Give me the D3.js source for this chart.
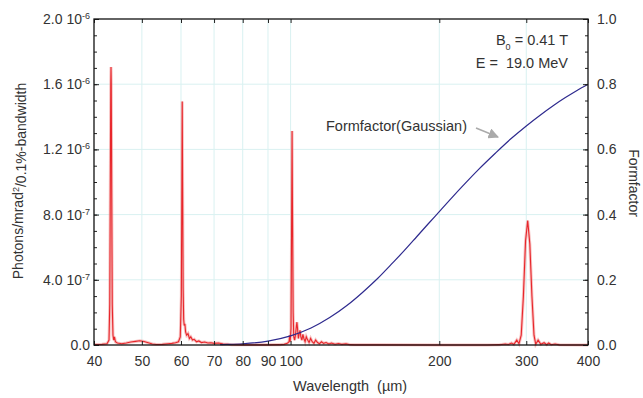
<!DOCTYPE html>
<html>
<head>
<meta charset="utf-8">
<style>
    body { margin: 0; background: white; }
    svg { font-family: 'Liberation Sans', Arial, Helvetica, sans-serif; }
    .tick text { font-size: 14px; fill: #333; }
    .tick line { stroke: #222; }
</style>
</head>
<body>
<svg width="643" height="398"></svg>
<script src="https://d3js.org/d3.v7.min.js"></script>
<script>
// spectrum: wavelength (um) and photons/mrad^2/0.1%-bw (in units of 1e-6)
let specWl = [40, 41.5, 42.5, 42.9, 43.05, 43.15, 43.25, 43.3, 43.35, 43.45, 43.55, 43.7, 43.85, 44.0, 44.2, 44.6,
    45.5, 46.5, 47.5, 48.5, 49.5, 50.5, 51.5, 52.5, 53.5, 55, 56.5, 57.5, 58.5, 59.3, 59.8,
    60.1, 60.25, 60.35, 60.45, 60.6, 60.75, 60.9, 61.1, 61.3, 61.6, 62.0, 62.4, 62.8, 63.3, 63.8, 64.5,
    65.2, 66, 67, 68, 69, 70, 71.5, 73, 74.5, 76, 80, 90, 95, 97, 98.5, 99.3, 99.6, 99.8,
    100.2, 100.5, 100.7, 100.9, 101.2, 101.5, 101.9, 102.3, 102.7, 103.0, 103.3, 103.7, 104.1, 104.5, 104.9,
    105.4, 105.9, 106.4, 107, 107.6, 108.3, 109, 109.8, 110.6, 111.5, 112.4, 113.4, 114.4, 115.5, 116.6,
    118, 119.5, 121, 123, 125, 127, 129.5, 132, 135, 150, 200, 250,
    265, 272, 276, 280, 283, 287, 290, 293, 296, 299, 302, 305, 308, 311, 313.5, 317, 321, 326, 330,
    333, 337, 343, 350, 400];
let specVal = [0.003, 0.004, 0.008, 0.03, 0.25, 0.9, 1.6, 1.705, 1.6, 0.9, 0.25, 0.06, 0.03, 0.05, 0.02, 0.012,
    0.008, 0.012, 0.018, 0.022, 0.026, 0.022, 0.014, 0.006, 0.003, 0.004, 0.008, 0.01, 0.014, 0.02, 0.05,
    0.3, 1.0, 1.494, 1.0, 0.35, 0.16, 0.12, 0.13, 0.08, 0.06, 0.07, 0.04, 0.05, 0.03, 0.035, 0.02,
    0.025, 0.015, 0.018, 0.012, 0.014, 0.01, 0.012, 0.006, 0.004, 0.002, 0.001, 0.001, 0.002, 0.004, 0.01, 0.02, 0.06, 0.02,
    0.1, 0.8, 1.313, 0.8, 0.2, 0.05, 0.03, 0.06, 0.11, 0.14, 0.10, 0.04, 0.07, 0.09, 0.05,
    0.03, 0.065, 0.04, 0.02, 0.05, 0.03, 0.015, 0.04, 0.02, 0.01, 0.03, 0.015, 0.008, 0.02, 0.01,
    0.015, 0.006, 0.012, 0.005, 0.009, 0.004, 0.007, 0.002, 0.001, 0.001, 0.0, 0.0,
    0.002, 0.006, 0.003, 0.012, 0.003, 0.03, 0.008, 0.06, 0.3, 0.64, 0.763, 0.62, 0.3, 0.06, 0.005, 0.03, 0.004, 0.014, 0.002,
    0.012, 0.002, 0.006, 0.001, 0.0];

// formfactor curve (right axis)
let ffWl = [72, 75, 80, 90, 100, 110, 120, 130, 140, 150, 160, 170, 180, 190, 200,
    220, 240, 260, 280, 300, 320, 340, 360, 380, 400];
let ffVal = [0.001, 0.0018, 0.0038, 0.012, 0.028, 0.052, 0.084, 0.121, 0.162, 0.204, 0.248, 0.29, 0.332, 0.372, 0.409,
    0.478, 0.538, 0.589, 0.634, 0.672, 0.705, 0.734, 0.759, 0.781, 0.8];

let xTicks = [40, 50, 60, 70, 80, 90, 100, 200, 300, 400];
let xGrid = [50, 60, 70, 80, 90, 100, 200, 300];
let yTicks = [0, 0.4, 0.8, 1.2, 1.6, 2.0];
let yTickLabels = [["0.0", ""], ["4.0 10", "-7"], ["8.0 10", "-7"], ["1.2 10", "-6"], ["1.6 10", "-6"], ["2.0 10", "-6"]];
let yMinor = d3.range(0, 2.001, 0.1);
let rTicks = [0, 0.2, 0.4, 0.6, 0.8, 1.0];
let rMinor = d3.range(0, 1.001, 0.05);

let margin = {left: 94, right: 55, top: 19, bottom: 53};
let W = 643, H = 398;

let svg = d3.select("svg");

let x = d3.scaleLog().domain([40, 400]).range([margin.left, W - margin.right]);
let y = d3.scaleLinear().domain([0, 2.0]).range([H - margin.bottom, margin.top]);
let yR = d3.scaleLinear().domain([0, 1.0]).range([H - margin.bottom, margin.top]);

// grid
svg.append("g").selectAll("line").data(xGrid).join("line")
    .attr("x1", d => x(d)).attr("x2", d => x(d))
    .attr("y1", y(0)).attr("y2", y(2))
    .style("stroke", "#d9f1f1").style("stroke-width", 1);
svg.append("g").selectAll("line").data(yTicks.slice(1, -1)).join("line")
    .attr("x1", x(40)).attr("x2", x(400))
    .attr("y1", d => y(d)).attr("y2", d => y(d))
    .style("stroke", "#d9f1f1").style("stroke-width", 1);

// curves
let specData = specWl.map((w, i) => [w, specVal[i]]);
let ffData = ffWl.map((w, i) => [w, ffVal[i]]);

let specLine = d3.line().x(d => x(d[0])).y(d => y(d[1]));
let ffLine = d3.line().x(d => x(d[0])).y(d => yR(d[1])).curve(d3.curveMonotoneX);

svg.append("path").datum(specData).attr("d", specLine)
    .style("fill", "none").style("stroke", "#f29a9a").style("stroke-width", 3).style("opacity", 0.6);
svg.append("path").datum(specData).attr("d", specLine)
    .style("fill", "none").style("stroke", "#e8262b").style("stroke-width", 1.1);

svg.append("path").datum(ffData).attr("d", ffLine)
    .style("fill", "none").style("stroke", "#2e2a8e").style("stroke-width", 1.2);

// axes
svg.append("g").attr("transform", "translate(0," + y(0) + ")")
    .call(d3.axisBottom(x).tickValues(xTicks).tickFormat(d3.format("d")).tickSize(-4).tickSizeOuter(0).tickPadding(11));
svg.append("g").attr("transform", "translate(0," + y(2) + ")")
    .call(d3.axisTop(x).tickValues(xTicks).tickFormat("").tickSize(-4).tickSizeOuter(0));

svg.append("g").attr("transform", "translate(" + x(40) + ",0)")
    .call(d3.axisLeft(y).tickValues(yMinor).tickFormat("").tickSize(-3).tickSizeOuter(0));
let yLeft = svg.append("g").attr("transform", "translate(" + x(40) + ",0)")
    .call(d3.axisLeft(y).tickValues(yTicks).tickSize(-5).tickSizeOuter(0).tickPadding(4));
yLeft.selectAll(".tick text").each(function (d, i) {
    let t = d3.select(this).text("");
    t.append("tspan").text(yTickLabels[i][0]);
    if (yTickLabels[i][1]) {
        t.append("tspan").attr("dy", "-0.55em").style("font-size", "9px").text(yTickLabels[i][1]);
    }
});

svg.append("g").attr("transform", "translate(" + x(400) + ",0)")
    .call(d3.axisRight(yR).tickValues(rMinor).tickFormat("").tickSize(-3).tickSizeOuter(0));
svg.append("g").attr("transform", "translate(" + x(400) + ",0)")
    .call(d3.axisRight(yR).tickValues(rTicks).tickFormat(d3.format(".1f")).tickSize(-5).tickSizeOuter(0).tickPadding(9));

svg.selectAll(".domain").remove();

// frame
svg.append("rect")
    .attr("x", x(40)).attr("y", y(2))
    .attr("width", x(400) - x(40)).attr("height", y(0) - y(2))
    .style("fill", "none").style("stroke", "#111").style("stroke-width", 1.3);

// titles
svg.append("text")
    .attr("x", 293).attr("y", 391)
    .style("font-size", "14.5px").style("fill", "#333").style("white-space", "pre")
    .text("Wavelength  (\u00b5m)");

let yt = svg.append("text")
    .attr("transform", "translate(23,181) rotate(-90)")
    .attr("text-anchor", "middle")
    .style("font-size", "14px").style("fill", "#333");
yt.append("tspan").text("Photons/mrad");
yt.append("tspan").attr("dy", "-0.5em").style("font-size", "9px").text("2");
yt.append("tspan").attr("dy", "0.5em").text("/0.1%-bandwidth");

svg.append("text")
    .attr("transform", "translate(629,183) rotate(90)")
    .attr("text-anchor", "middle")
    .style("font-size", "14px").style("fill", "#333")
    .text("Formfactor");

// annotations
let b0 = svg.append("text").attr("x", 568).attr("y", 45).attr("text-anchor", "end")
    .style("font-size", "14.5px").style("fill", "#333");
b0.append("tspan").text("B");
b0.append("tspan").attr("dy", "5").style("font-size", "9px").text("0");
b0.append("tspan").attr("dy", "-5").text(" = 0.41 T");

svg.append("text").attr("x", 568).attr("y", 68).attr("text-anchor", "end")
    .style("font-size", "14.5px").style("fill", "#333").style("white-space", "pre")
    .text("E =  19.0 MeV");

svg.append("text").attr("x", 326).attr("y", 131)
    .style("font-size", "14.5px").style("fill", "#333")
    .text("Formfactor(Gaussian)");

svg.append("defs").append("marker")
    .attr("id", "arr").attr("viewBox", "0 0 10 10").attr("refX", 9).attr("refY", 5)
    .attr("markerWidth", 7).attr("markerHeight", 7).attr("orient", "auto")
    .append("path").attr("d", "M0,0 L10,5 L0,10 z").style("fill", "#aaa");
svg.append("line")
    .attr("x1", 476).attr("y1", 128).attr("x2", 498).attr("y2", 137)
    .style("stroke", "#aaa").style("stroke-width", 1.5)
    .attr("marker-end", "url(#arr)");
</script>
</body>
</html>
